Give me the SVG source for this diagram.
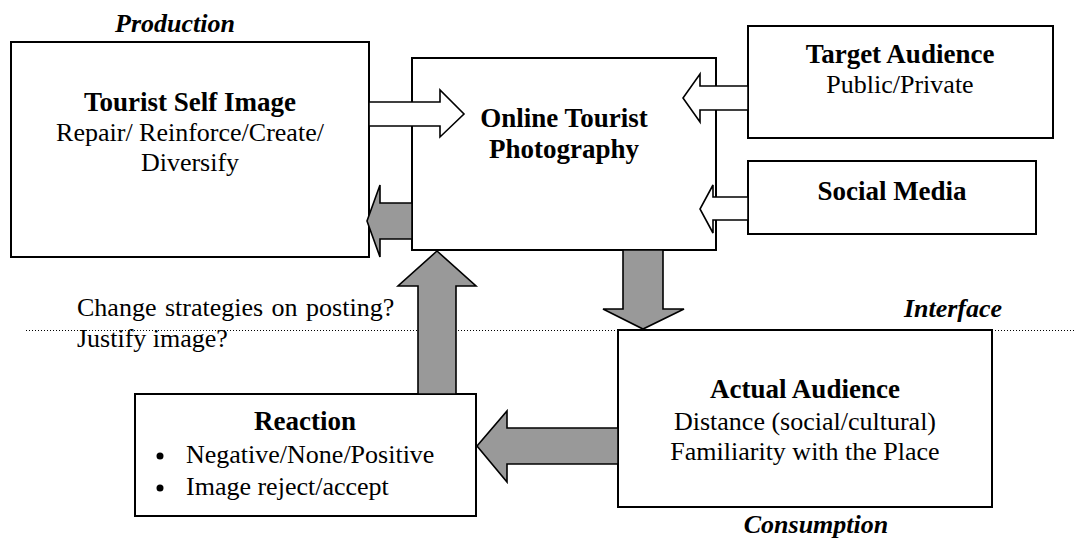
<svg xmlns="http://www.w3.org/2000/svg" width="1076" height="543" viewBox="0 0 1076 543">
<style>
text{font-family:"Liberation Serif","Times New Roman",serif;fill:#000}
.t{font-weight:bold;font-size:27px;text-anchor:middle}
.r{font-size:26px;text-anchor:middle}
.l{font-size:26px}
.bi{font-weight:bold;font-style:italic;font-size:26px;text-anchor:middle}
.box{fill:#fff;stroke:#000;stroke-width:2}
.ha{fill:#fff;stroke:#000;stroke-width:1.6;stroke-linejoin:miter}
.ga{fill:#999;stroke:#000;stroke-width:1.6;stroke-linejoin:miter}
</style>
<rect width="1076" height="543" fill="#fff"/>
<g id="labels">
<text class="bi" x="175" y="32">Production</text>
<text class="bi" x="953" y="317">Interface</text>
<text class="bi" x="816" y="533">Consumption</text>
<text class="l" x="77" y="316" word-spacing="2">Change strategies on posting?</text>
<text class="l" x="77" y="347">Justify image?</text>
</g>
<line id="interface-line" x1="26" y1="330.5" x2="1076" y2="330.5" stroke="#000" stroke-width="1" stroke-dasharray="1 2"/>
<g id="tourist-self-image">
<rect class="box" x="11" y="42" width="358" height="215"/>
<text class="t" x="190" y="111">Tourist Self Image</text>
<text class="r" x="190" y="141">Repair/ Reinforce/Create/</text>
<text class="r" x="190" y="171">Diversify</text>
</g>
<g id="online-tourist-photography">
<rect class="box" x="412" y="58" width="304" height="192"/>
<text class="t" x="564" y="127">Online Tourist</text>
<text class="t" x="564" y="158">Photography</text>
</g>
<g id="target-audience">
<rect class="box" x="748" y="26" width="305" height="112"/>
<text class="t" x="900" y="63">Target Audience</text>
<text class="r" x="900" y="93">Public/Private</text>
</g>
<g id="social-media">
<rect class="box" x="748" y="161" width="288" height="73"/>
<text class="t" x="892" y="200">Social Media</text>
</g>
<g id="actual-audience">
<rect class="box" x="618" y="330" width="374" height="177"/>
<text class="t" x="805" y="398">Actual Audience</text>
<text class="r" x="805" y="430">Distance (social/cultural)</text>
<text class="r" x="805" y="460">Familiarity with the Place</text>
</g>
<g id="reaction">
<rect class="box" x="135" y="394" width="341" height="122"/>
<text class="t" x="305" y="430">Reaction</text>
<circle cx="160" cy="456" r="3.5" fill="#000"/>
<circle cx="160" cy="488" r="3.5" fill="#000"/>
<text class="l" x="186" y="463">Negative/None/Positive</text>
<text class="l" x="186" y="495">Image reject/accept</text>
</g>
<g id="connectors">
<polygon class="ha" points="369,102 440,102 440,90 464,114 440,137 440,126 369,126"/>
<polygon class="ha" points="748,86 700,86 700,74 683,98 700,122 700,110 748,110"/>
<polygon class="ha" points="748,197 713,197 713,185 700,209 713,233 713,220 748,220"/>
<polygon class="ga" points="412,203 380,203 380,185 367,221 380,257 380,239 412,239"/>
<polygon class="ga" points="623,250 663,250 663,309 684,309 643,329 603,309 623,309"/>
<polygon class="ga" points="418,394 418,286 398,286 437,251 476,286 456,286 456,394"/>
<polygon class="ga" points="618,428 507,428 507,411 477,446 507,482 507,464 618,464"/>
</g>
</svg>
